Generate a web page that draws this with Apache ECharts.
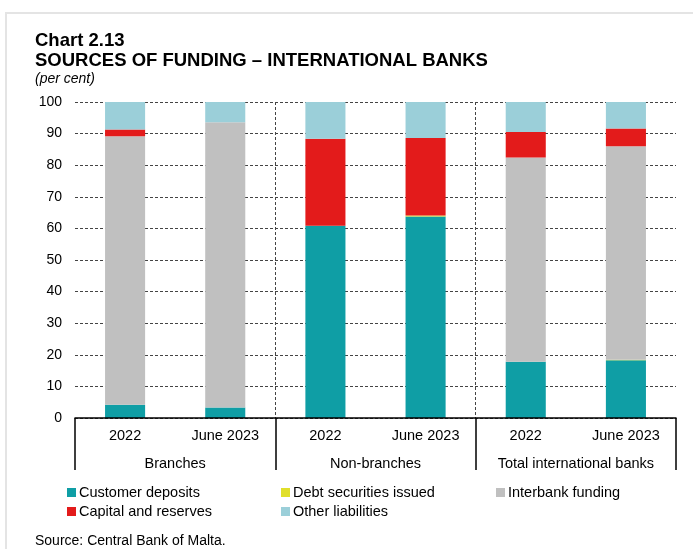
<!DOCTYPE html>
<html>
<head>
<meta charset="utf-8">
<script src="https://cdn.jsdelivr.net/npm/echarts@6/dist/echarts.min.js"></script>
<style>
  html, body { margin: 0; padding: 0; background: #fff; }
  #chart { width: 693px; height: 549px; }
</style>
</head>
<body>
<div id="chart"></div>
<script>
// Periods shown for each bank group
const periods = ['2022', 'June 2023', '2022', 'June 2023', '2022', 'June 2023'];
const groups = ['Branches', 'Non-branches', 'Total international banks'];
const yTicks = { min: 0, max: 100, step: 10 };

// Funding shares (per cent), one value per period column
const customerDeposits = [4.2, 3.3, 60.8, 63.8, 17.8, 18.3];
const debtSecurities   = [0.0, 0.0, 0.0, 0.3, 0.0, 0.1];
const interbankFunding = [85.0, 90.3, 0.0, 0.0, 64.6, 67.6];
const capitalReserves  = [2.1, 0.0, 27.6, 24.5, 8.1, 5.6];
const otherLiabilities = [8.7, 6.4, 11.6, 11.4, 9.5, 8.4];

const seriesDefs = [
  { name: 'Customer deposits', data: customerDeposits, color: '#0f9ea5' },
  { name: 'Debt securities issued', data: debtSecurities, color: '#e0df2b' },
  { name: 'Interbank funding', data: interbankFunding, color: '#c0c0c0' },
  { name: 'Capital and reserves', data: capitalReserves, color: '#e31b1b' },
  { name: 'Other liabilities', data: otherLiabilities, color: '#9bcfd9' }
];

const FONT = '"Liberation Sans", Arial, sans-serif';

// Legend placement: two rows, three columns
const legendSlots = [
  { left: 67, top: 485 },
  { left: 281, top: 485 },
  { left: 496, top: 485 },
  { left: 67, top: 504 },
  { left: 281, top: 504 }
];

const chart = echarts.init(document.getElementById('chart'), null, { renderer: 'canvas' });

const option = {
  backgroundColor: '#ffffff',
  animation: false,
  title: [
    { text: 'Chart 2.13', left: 30, top: 26,
      textStyle: { fontFamily: FONT, fontSize: 18.5, fontWeight: 'bold', color: '#000' } },
    { text: 'SOURCES OF FUNDING – INTERNATIONAL BANKS', left: 30, top: 46,
      textStyle: { fontFamily: FONT, fontSize: 18.5, fontWeight: 'bold', color: '#000' } },
    { text: '(per cent)', left: 30, top: 67,
      textStyle: { fontFamily: FONT, fontSize: 14, fontStyle: 'italic', fontWeight: 'normal', color: '#000' } },
    { text: 'Source: Central Bank of Malta.', left: 30, top: 529,
      textStyle: { fontFamily: FONT, fontSize: 14, fontWeight: 'normal', color: '#000' } }
  ],
  graphic: [
    { type: 'rect', silent: true, z: -1,
      shape: { x: 6, y: 13, width: 800, height: 700 },
      style: { fill: null, stroke: '#e4e4e4', lineWidth: 2 } }
  ],
  legend: seriesDefs.map((s, i) => ({
    data: [s.name],
    left: legendSlots[i].left,
    top: legendSlots[i].top,
    icon: 'rect',
    itemWidth: 9,
    itemHeight: 9,
    itemGap: 0,
    padding: 0,
    selectedMode: false,
    textStyle: { fontFamily: FONT, fontSize: 14.5, color: '#000', padding: [0, 0, 0, -2] }
  })),
  grid: { left: 75, right: 17, top: 102, bottom: 131, containLabel: false },
  xAxis: [
    {
      type: 'category',
      data: periods,
      position: 'bottom',
      axisLine: { show: false },
      axisTick: { show: false },
      axisLabel: { fontFamily: FONT, fontSize: 14.5, color: '#000', margin: 10, interval: 0 },
      splitLine: { show: false }
    },
    {
      type: 'category',
      data: groups,
      position: 'bottom',
      axisLine: { show: true, lineStyle: { color: '#000', width: 1.5 } },
      axisTick: { show: true, length: 52, lineStyle: { color: '#000', width: 1.5 } },
      axisLabel: { fontFamily: FONT, fontSize: 14.5, color: '#000', margin: 38, interval: 0 },
      splitLine: {
        show: true, showMinLine: false, showMaxLine: false,
        lineStyle: { color: '#444', type: [3, 2], width: 1 }
      },
      z: 5
    }
  ],
  yAxis: {
    type: 'value',
    min: yTicks.min,
    max: yTicks.max,
    interval: yTicks.step,
    axisLine: { show: false },
    axisTick: { show: false },
    axisLabel: { fontFamily: FONT, fontSize: 14, color: '#000', margin: 13 },
    splitLine: { show: true, lineStyle: { color: '#444', type: [3, 2], width: 1 } }
  },
  series: seriesDefs.map(s => ({
    name: s.name,
    type: 'bar',
    stack: 'funding',
    xAxisIndex: 0,
    barWidth: '40%',
    data: s.data,
    itemStyle: { color: s.color },
    z: 3
  }))
};

chart.setOption(option);
</script>
</body>
</html>
